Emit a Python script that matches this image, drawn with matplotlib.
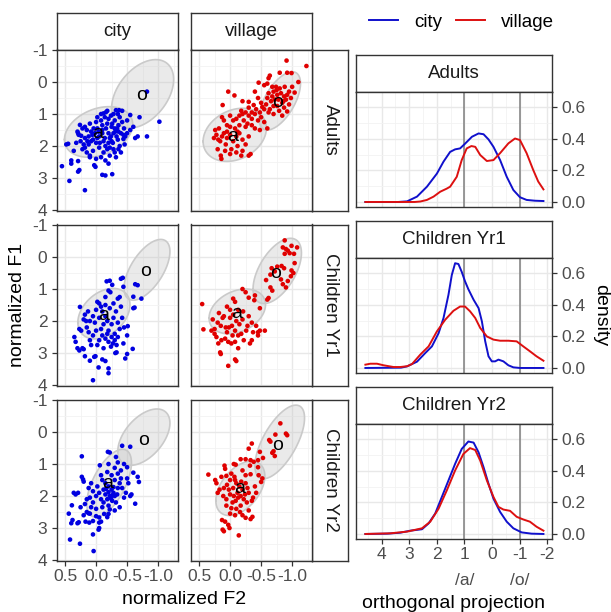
import numpy as np
import matplotlib
matplotlib.use("Agg")
import matplotlib.pyplot as plt
from matplotlib.ticker import FixedLocator, FixedFormatter
from matplotlib.lines import Line2D

plt.rcParams['font.family'] = ['Liberation Sans', 'DejaVu Sans']
plt.rcParams['axes.unicode_minus'] = False

# ---------------- data ----------------
rows = ["Adults", "Children Yr1", "Children Yr2"]
cols = ["city", "village"]
col_colors = {"city": "#0000E0", "village": "#E00000"}
line_colors = {"city": "#1010CC", "village": "#DD1010"}

# (F2, F1) pairs
adults_city = [(0.55,2.63),(0.43,3.09),(0.18,3.38),(0.40,2.45),(0.40,2.55),(0.29,2.8),(0.27,2.75),(0.29,2.47),
    (0.48,1.95),(0.45,1.93),(0.29,1.6),(0.28,1.65),(0.30,1.55),(0.26,1.34),(0.2,1.95),(0.18,2.05),(0.1,2.3),
    (0.1,2.35),(0.03,2.6),(0.01,2.65),(-0.1,2.9),(-0.15,2.92),(-0.26,2.88),(-0.16,0.94),(-0.18,0.9),(-0.32,0.88),
    (-0.37,0.88),(-0.42,0.9),(-0.55,1.03),(-0.7,1.1),(-0.82,0.3),(-1.02,1.24),(-0.82,1.7),(-0.67,1.7),(-0.63,1.75),
    (-0.6,1.4),(-0.47,1.7),(-0.44,1.78),(0.15,1.5),(0.12,1.7),(0.08,1.55),(0.05,1.8),(0.02,1.6),(0.0,1.9),
    (-0.02,1.45),(-0.05,1.7),(-0.08,1.2),(-0.1,1.5),(-0.12,1.85),(-0.14,1.1),(-0.15,2.0),(-0.18,1.3),(-0.2,1.6),
    (-0.22,1.75),(-0.24,1.05),(-0.25,1.4),(-0.27,1.9),(-0.28,2.1),(-0.3,1.2),(-0.31,1.55),(-0.33,1.7),(-0.35,1.0),
    (-0.36,1.35),(-0.38,2.0),(-0.4,1.6),(-0.42,1.25),(-0.3,2.2),(-0.22,2.3),(-0.12,2.2),(-0.05,2.05),(0.05,2.15),
    (0.12,1.95),(0.18,1.75),(0.22,1.45),(0.1,1.3),(0.0,1.25),(-0.08,1.0),(-0.2,1.15),(-0.28,1.6),(-0.35,1.8),
    (-0.45,1.45),(-0.5,1.6),(-0.5,1.2),(-0.38,1.1),(-0.25,1.85),(-0.18,2.1),(-0.1,1.35),(-0.02,1.75),(0.08,1.85),
    (0.15,2.2),(0.22,2.1),(0.25,1.85),(-0.32,2.35),(-0.15,2.45),(-0.4,2.2),(0.0,2.4),(-0.26,1.3),(-0.1,1.6),
    (-0.2,1.9),(-0.3,1.45),(-0.06,1.9),(-0.36,1.55),(0.04,1.45),(-0.14,1.75),
    (0.18,1.4),(0.06,1.65),(-0.04,1.55),(-0.16,1.45),(-0.24,1.7),(-0.34,1.45),(-0.44,1.65),(-0.28,1.0),
    (-0.12,0.98),(-0.02,1.1),(0.14,1.85),(0.24,1.68),(-0.08,2.35),(-0.22,2.05),(-0.36,2.1),(-0.46,1.95),
    (0.32,1.9),(0.36,2.15),(-0.55,1.5),(-0.2,2.55)]

adults_village = [(-0.91,-0.67),(-1.23,-0.5),(-0.8,-0.29),(-0.92,-0.29),(-0.99,-0.28),(-0.64,-0.2),(-0.62,-0.12),
    (-1.1,0.0),(-1.04,0.33),(-0.46,0.02),(-0.6,0.05),(-0.55,0.1),(-0.7,0.3),(-0.76,0.4),(-0.82,0.35),(-0.87,0.45),
    (-0.9,0.55),(-0.84,0.65),(-0.76,0.75),(-0.79,0.9),(-0.87,0.8),(-0.92,0.92),(-0.95,0.7),(-0.72,0.55),(-0.66,0.6),
    (-0.68,0.45),(-0.6,0.5),(-0.58,0.7),(-0.64,0.85),(-0.7,1.0),(-0.55,0.85),(-0.8,0.2),(-0.88,0.15),(-0.95,0.3),
    (-0.98,0.5),(-0.74,0.15),(-0.84,1.05),(-0.62,0.35),(0.03,0.3),(-0.07,0.42),(0.12,0.72),(-0.2,0.6),(-0.3,0.62),
    (-0.38,0.72),(-0.45,0.5),(-0.4,0.3),(0.13,1.1),(0.1,1.2),(0.0,1.05),(-0.05,1.2),(-0.1,1.15),(-0.18,0.9),
    (-0.2,1.0),(-0.22,1.2),(-0.28,1.3),(-0.3,1.05),(-0.35,1.15),(-0.4,1.0),(-0.42,0.85),(-0.48,0.95),(-0.5,1.1),
    (-0.52,0.78),(-0.55,1.25),(-0.6,1.45),(-0.48,1.5),(-0.4,1.45),(-0.35,1.35),(-0.25,1.4),(-0.15,1.35),(-0.08,1.45),
    (0.0,1.4),(0.05,1.55),(0.24,1.5),(0.22,1.65),(0.19,1.8),(0.16,1.85),(0.13,1.7),(0.1,1.6),(0.05,1.75),(0.0,1.65),
    (-0.05,1.85),(-0.1,1.7),(-0.15,1.6),(-0.2,1.8),(-0.12,2.0),(-0.02,2.1),(0.08,2.15),(0.15,2.3),(0.14,2.4),
    (0.0,2.25),(-0.1,2.2),(-0.2,2.15),(-0.3,2.3),(-0.33,2.25),(-0.25,1.95),(-0.3,1.7),(0.2,2.1),
    (-0.3,0.8),(-0.25,0.95),(-0.15,1.05),(-0.45,1.2),(-0.5,0.65),(-0.62,0.95),(-0.7,0.75),(-0.78,0.55),
    (-0.86,0.6),(-0.92,0.4),(-0.75,0.25),(-0.68,0.15),(-0.35,0.95),(0.05,1.35),(0.18,1.45),(-0.12,1.55),
    (0.07,1.95),(-0.18,2.3),(0.26,1.75),(-1.0,0.15)]

yr1_city = [(0.05,3.85),(-0.2,3.63),(-0.2,3.48),(-0.04,3.45),(0.1,3.24),(0.01,3.1),(0.03,3.12),(-0.1,3.2),
    (-0.15,3.25),(-0.31,3.0),(-0.33,2.98),(-0.47,3.17),(-0.5,3.03),(-0.59,2.87),(0.3,2.85),(0.27,2.92),(0.22,2.85),
    (0.2,2.88),(0.18,3.1),(0.35,2.5),(0.33,2.65),(0.27,2.25),(0.24,2.3),(0.2,1.95),(0.16,2.0),(0.26,1.56),(0.18,1.8),
    (0.13,1.7),(-0.02,1.4),(-0.05,1.45),(-0.15,1.25),(-0.35,1.3),(-0.38,1.25),(-0.2,1.05),(-0.23,1.1),(-0.17,0.76),
    (-0.22,0.74),(-0.4,0.68),(-0.43,0.65),(-0.26,0.87),(-0.44,0.93),(-0.63,0.85),(-0.67,0.88),(-0.6,1.24),
    (-0.73,1.3),(-0.6,1.6),(-0.62,1.58),(-0.51,2.16),(-0.5,2.45),(-0.44,2.7),(-0.33,2.75),(-0.27,2.7),(-0.24,2.8),
    (0.1,2.0),(0.05,1.85),(0.0,1.65),(-0.05,1.9),(-0.1,1.7),(-0.12,2.1),(-0.15,1.85),(-0.18,2.0),(-0.2,2.3),
    (-0.22,1.6),(-0.25,2.1),(-0.28,1.9),(-0.3,2.4),(-0.32,1.7),(-0.35,2.05),(-0.38,2.25),(-0.4,1.55),(-0.42,1.9),
    (-0.45,2.2),(-0.1,2.45),(-0.05,2.6),(-0.15,2.55),(-0.2,2.65),(0.0,2.3),(0.05,2.45),(0.1,2.6),(0.12,2.35),
    (0.15,2.2),(-0.25,2.5),(-0.3,2.6),(-0.12,2.85),(-0.02,2.75),(0.08,2.75),(-0.08,1.55),(-0.28,1.45),(-0.15,1.5),
    (-0.35,2.5),(-0.18,2.4),(-0.08,2.25),(0.02,2.05)]

yr1_village = [(-0.88,-0.52),(-0.85,-0.3),(-0.9,-0.25),(-0.93,-0.2),(-0.96,-0.12),(-1.03,-0.1),(-1.08,-0.3),
    (-0.99,-0.35),(-0.88,-0.1),(-1.04,0.19),(-0.67,0.35),(-0.72,0.45),(-0.65,0.55),(-0.58,0.72),(-0.76,0.3),
    (-0.83,0.28),(-0.87,0.35),(-0.82,0.7),(-0.85,0.85),(-0.9,0.95),(-0.93,0.75),(-0.99,0.42),(-0.98,0.6),
    (-1.02,0.5),(-0.65,0.95),(-0.68,1.05),(-0.6,1.33),(-0.62,1.28),(-0.4,1.2),(-0.39,1.35),(-0.2,1.0),(-0.25,1.1),
    (-0.3,1.27),(-0.05,1.3),(-0.08,1.4),(0.0,1.65),(-0.13,1.65),(-0.21,1.7),(0.45,1.47),(0.43,2.26),(0.25,2.4),
    (0.22,2.5),(0.2,2.05),(0.15,2.15),(0.12,1.9),(0.1,1.85),(0.07,2.2),(0.02,2.2),(-0.03,2.15),(-0.08,2.3),
    (-0.13,2.45),(-0.18,2.4),(-0.26,2.3),(-0.37,2.35),(-0.45,2.45),(-0.48,2.3),(-0.56,2.3),(0.19,2.7),(0.14,2.6),
    (0.08,2.55),(0.03,2.65),(-0.02,2.7),(-0.08,2.65),(0.16,2.98),(0.15,3.03),(0.03,3.4),(-0.08,3.2),(-0.1,3.25),
    (-0.13,2.85),(-0.32,2.7),(-0.35,2.6),(-0.45,2.35),(-0.48,1.6),(0.05,1.55),(0.0,1.9),(-0.1,2.0),(-0.2,1.95),
    (-0.3,1.85),(-0.35,2.05),(-0.42,2.15),(0.25,2.25),(0.3,2.3),(0.28,1.95),(0.18,1.75),(-0.04,2.45),(-0.22,2.6),
    (-0.28,2.15),(0.05,2.35),(-0.15,2.1),(-0.05,1.8)]

yr2_city = [(0.04,3.72),(0.26,3.49),(0.42,3.36),(0.05,3.2),(-0.04,3.05),(-0.05,3.0),(0.4,2.85),(0.38,2.75),
    (0.3,2.85),(0.28,2.82),(0.17,2.8),(0.11,2.83),(0.05,2.78),(-0.05,2.83),(-0.08,2.8),(0.44,2.55),(0.15,2.5),
    (0.12,2.54),(0.0,2.63),(-0.05,2.67),(-0.13,2.56),(-0.18,2.66),(-0.2,2.56),(0.39,2.29),(0.36,1.9),(0.33,1.95),
    (0.29,1.9),(0.23,1.4),(0.21,1.48),(0.2,1.55),(0.23,0.76),(-0.06,1.04),(-0.19,0.62),(-0.22,0.64),(-0.32,0.78),
    (-0.42,0.43),(-0.55,0.46),(-0.45,1.0),(-0.5,1.1),(-0.4,1.2),(-0.6,1.27),(-0.67,1.4),(-0.69,1.56),(-0.63,2.24),
    (-0.55,2.0),(-0.57,1.95),(-0.48,1.9),(-0.1,1.5),(-0.15,1.6),(-0.2,1.7),(-0.25,1.8),(-0.28,1.9),(-0.3,2.0),
    (-0.22,2.0),(-0.18,2.1),(-0.15,1.95),(-0.12,2.2),(-0.08,2.1),(-0.05,1.9),(0.0,2.0),(0.05,2.2),(0.08,2.35),
    (0.0,2.4),(-0.1,2.35),(-0.2,2.3),(-0.26,2.15),(-0.32,2.2),(-0.35,1.75),(-0.38,1.6),(-0.3,1.5),(-0.25,1.35),
    (-0.18,1.25),(-0.35,1.3),(-0.4,1.45),(-0.42,1.75),(-0.45,2.05),(-0.38,2.35),(-0.3,2.45),(-0.22,2.42),
    (-0.12,1.8),(-0.02,1.7),(0.05,1.85),(0.1,2.05),(0.12,1.75),(0.15,2.1),(0.18,2.25),(-0.26,1.98),(-0.2,1.88),
    (-0.24,2.08),(-0.28,1.72),(-0.16,1.78),(-0.34,1.95),(-0.5,1.45),(-0.52,1.6),(0.08,1.6),(-0.08,1.35),
    (-0.3,1.12),(-0.2,1.0),(-0.35,0.95),(0.1,2.55),(0.25,2.35),(0.2,2.6)]

yr2_village = [(-0.81,-0.27),(-0.9,0.05),(-0.92,0.1),(-0.73,0.08),(-0.63,0.25),(-0.65,0.3),(-0.7,0.6),
    (-0.68,0.65),(-0.72,0.75),(-0.35,0.36),(-0.3,0.52),(-0.48,0.62),(-0.53,0.81),(-0.45,0.88),(-0.17,0.85),
    (-0.25,0.85),(-0.33,0.88),(-0.38,0.93),(-0.06,1.0),(-0.09,1.02),(-0.32,1.05),(-0.45,1.1),(0.09,1.05),
    (0.08,1.15),(0.35,1.33),(0.24,1.5),(0.22,1.6),(0.14,1.4),(0.06,1.37),(0.0,1.5),(-0.02,1.3),(-0.07,1.4),
    (-0.2,1.2),(-0.25,1.35),(-0.33,1.32),(-0.46,1.35),(-0.5,1.56),(-0.52,1.45),(0.17,1.8),(0.2,1.9),(0.11,2.0),
    (0.06,2.1),(0.0,1.95),(-0.06,2.0),(-0.09,2.15),(-0.17,2.0),(-0.22,2.1),(-0.27,2.2),(-0.35,2.15),(-0.37,2.05),
    (0.06,2.3),(-0.02,2.38),(-0.1,2.4),(-0.17,2.3),(-0.2,2.6),(-0.25,2.68),(-0.33,2.72),(-0.36,2.65),(0.13,2.75),
    (0.08,2.8),(0.03,2.9),(0.01,3.0),(0.1,3.1),(0.12,3.05),(-0.14,3.23),(-0.1,1.6),(-0.15,1.7),(-0.2,1.8),
    (-0.05,1.75),(0.05,1.65),(-0.25,1.6),(-0.3,1.9),(-0.12,1.9),(-0.08,1.5),(0.02,1.8),(-0.18,1.55),(-0.28,1.75),
    (-0.13,2.05),(-0.04,2.2),(-0.24,1.95),(-0.4,1.7),(-0.42,1.9),(0.1,1.75),(-0.16,2.5),(-0.08,2.6),(0.0,2.55),
    (-0.3,2.45)]

points = {("Adults", "city"): adults_city, ("Adults", "village"): adults_village,
          ("Children Yr1", "city"): yr1_city, ("Children Yr1", "village"): yr1_village,
          ("Children Yr2", "city"): yr2_city, ("Children Yr2", "village"): yr2_village}

# vowel ellipses: (centre F2, centre F1, sd F2, sd F1, correlation)
ell_a = {("Adults", "city"): (-0.04, 1.56, 0.55, 0.79, 0.3), ("Adults", "village"): (-0.075, 1.65, 0.51, 0.83, 0.25),
         ("Children Yr1", "city"): (-0.126, 1.77, 0.42, 0.79, 0.35), ("Children Yr1", "village"): (-0.116, 1.70, 0.455, 0.70, 0.3),
         ("Children Yr2", "city"): (-0.21, 1.60, 0.36, 1.06, 0.6), ("Children Yr2", "village"): (-0.165, 1.76, 0.395, 0.85, 0.45)}
ell_o = {("Adults", "city"): (-0.75, 0.37, 0.50, 1.07, 0.42), ("Adults", "village"): (-0.80, 0.59, 0.335, 0.91, 0.6),
         ("Children Yr1", "city"): (-0.82, 0.40, 0.37, 0.95, 0.6), ("Children Yr1", "village"): (-0.76, 0.435, 0.39, 1.02, 0.55),
         ("Children Yr2", "city"): (-0.77, 0.16, 0.42, 0.88, 0.5), ("Children Yr2", "village"): (-0.80, 0.31, 0.40, 1.15, 0.65)}
lab_a = {("Adults", "city"): (-0.03, 1.60), ("Adults", "village"): (-0.04, 1.71),
         ("Children Yr1", "city"): (-0.12, 1.82), ("Children Yr1", "village"): (-0.10, 1.77),
         ("Children Yr2", "city"): (-0.18, 1.61), ("Children Yr2", "village"): (-0.16, 1.75)}
lab_o = {("Adults", "city"): (-0.74, 0.43), ("Adults", "village"): (-0.76, 0.64),
         ("Children Yr1", "city"): (-0.79, 0.45), ("Children Yr1", "village"): (-0.73, 0.50),
         ("Children Yr2", "city"): (-0.76, 0.25), ("Children Yr2", "village"): (-0.76, 0.41)}

# densities of orthogonal projection
dens_adults_city_x = [4.59, 3.4, 3.08, 2.72, 2.36, 2.0, 1.76, 1.52, 1.34, 1.16, 0.98, 0.73, 0.49, 0.31, 0.13, -0.05, -0.29, -0.53, -0.77, -1.01, -1.25, -1.55, -1.86]
dens_adults_city_y = [0.0, 0.0, 0.004, 0.034, 0.097, 0.18, 0.256, 0.318, 0.334, 0.34, 0.37, 0.414, 0.435, 0.43, 0.397, 0.35, 0.266, 0.16, 0.076, 0.03, 0.013, 0.008, 0.006]
dens_adults_village_x = [4.59, 2.8, 2.6, 2.36, 2.12, 1.88, 1.64, 1.52, 1.28, 1.1, 0.92, 0.75, 0.61, 0.43, 0.19, -0.05, -0.29, -0.59, -0.83, -1.01, -1.25, -1.49, -1.67, -1.86]
dens_adults_village_y = [0.0, 0.0, 0.003, 0.013, 0.034, 0.065, 0.085, 0.097, 0.16, 0.266, 0.34, 0.355, 0.35, 0.298, 0.26, 0.266, 0.31, 0.372, 0.403, 0.393, 0.31, 0.203, 0.13, 0.08]
dens_yr1_city_x = [4.59, 3.3, 3.08, 2.72, 2.42, 2.18, 1.94, 1.76, 1.58, 1.46, 1.34, 1.22, 1.1, 0.98, 0.86, 0.67, 0.49, 0.37, 0.25, 0.13, 0.01, -0.11, -0.23, -0.41, -0.59, -0.77, -1.01, -1.86]
dens_yr1_city_y = [0.0, 0.002, 0.01, 0.04, 0.095, 0.137, 0.22, 0.317, 0.465, 0.59, 0.665, 0.66, 0.61, 0.55, 0.5, 0.433, 0.38, 0.296, 0.17, 0.074, 0.042, 0.042, 0.053, 0.042, 0.017, 0.004, 0.0, 0.0]
dens_yr1_village_x = [4.59, 4.41, 4.17, 3.93, 3.57, 3.33, 3.08, 2.9, 2.6, 2.3, 2.0, 1.7, 1.4, 1.16, 0.98, 0.8, 0.61, 0.43, 0.19, -0.05, -0.29, -0.59, -0.89, -1.13, -1.37, -1.61, -1.86]
dens_yr1_village_y = [0.021, 0.027, 0.027, 0.017, 0.006, 0.006, 0.011, 0.025, 0.085, 0.137, 0.232, 0.306, 0.363, 0.39, 0.39, 0.36, 0.317, 0.254, 0.2, 0.18, 0.173, 0.173, 0.169, 0.137, 0.106, 0.074, 0.046]
dens_yr2_city_x = [4.59, 3.8, 3.33, 2.96, 2.54, 2.3, 2.06, 1.82, 1.58, 1.34, 1.1, 0.86, 0.67, 0.49, 0.31, 0.13, -0.05, -0.29, -0.53, -0.77, -1.07, -1.43, -1.86]
dens_yr2_city_y = [0.0, 0.002, 0.008, 0.021, 0.03, 0.067, 0.13, 0.235, 0.34, 0.445, 0.54, 0.587, 0.58, 0.518, 0.424, 0.319, 0.224, 0.14, 0.078, 0.036, 0.01, 0.002, 0.0]
dens_yr2_village_x = [4.59, 3.69, 3.08, 2.54, 2.24, 1.94, 1.64, 1.34, 1.04, 0.8, 0.61, 0.43, 0.19, -0.05, -0.23, -0.41, -0.65, -0.89, -1.13, -1.37, -1.61, -1.86]
dens_yr2_village_y = [0.0, 0.004, 0.015, 0.036, 0.078, 0.16, 0.277, 0.403, 0.508, 0.545, 0.533, 0.466, 0.34, 0.235, 0.172, 0.155, 0.147, 0.109, 0.092, 0.078, 0.046, 0.021]

dens = {("Adults", "city"): (dens_adults_city_x, dens_adults_city_y),
        ("Adults", "village"): (dens_adults_village_x, dens_adults_village_y),
        ("Children Yr1", "city"): (dens_yr1_city_x, dens_yr1_city_y),
        ("Children Yr1", "village"): (dens_yr1_village_x, dens_yr1_village_y),
        ("Children Yr2", "city"): (dens_yr2_city_x, dens_yr2_city_y),
        ("Children Yr2", "village"): (dens_yr2_village_x, dens_yr2_village_y)}

vowel_refs = [1, -1]
vowel_labels = ["/a/", "/o/"]

sc_xticks = [0.5, 0.0, -0.5, -1.0]
sc_xticklabels = ["0.5", "0.0", "-0.5", "-1.0"]
sc_yticks = [-1, 0, 1, 2, 3, 4]
de_xticks = [4, 3, 2, 1, 0, -1, -2]
de_yticks = [0.0, 0.2, 0.4, 0.6]

# ---------------- layout ----------------
W, H = 611, 612
fig = plt.figure(figsize=(W / 100, H / 100), dpi=100)

def rect(x0, y0, x1, y1):
    return [x0 / W, 1 - y1 / H, (x1 - x0) / W, (y1 - y0) / H]

EDGE = "#333333"
TICKC = "#4D4D4D"
TS = 12.5
STRIP = 13.5
TITLE = 14

def style_panel(ax):
    ax.set_facecolor("white")
    for s in ax.spines.values():
        s.set_color(EDGE)
        s.set_linewidth(1.0)
    ax.set_axisbelow(True)
    ax.grid(which="major", color="#E8E8E8", lw=1.0)
    ax.grid(which="minor", color="#F2F2F2", lw=0.6)
    ax.tick_params(which="major", length=3.5, width=0.9, color=EDGE, labelcolor=TICKC, labelsize=TS)
    ax.tick_params(which="minor", length=0)

def strip(r, text, rotation=0):
    ax = fig.add_axes(rect(*r))
    ax.set_xticks([]); ax.set_yticks([])
    ax.set_facecolor("white")
    for s in ax.spines.values():
        s.set_color(EDGE); s.set_linewidth(1.0)
    ax.text(0.5, 0.5, text, ha="center", va="center", rotation=rotation,
            fontsize=STRIP, color="#1A1A1A", transform=ax.transAxes)
    return ax

col_x = [(57, 178), (191, 312)]
row_y = [(49.5, 211), (224.5, 386), (399.5, 561)]

tt = np.linspace(0, 2 * np.pi, 200)

def ellipse_xy(p):
    cx, cy, sx, sy, rho = p
    x = cx + sx * np.cos(tt)
    y = cy + sy * (rho * np.cos(tt) + np.sqrt(1 - rho ** 2) * np.sin(tt))
    return x, y

for j, c in enumerate(cols):
    strip((col_x[j][0], 13, col_x[j][1], row_y[0][0]), c)
for i, r in enumerate(rows):
    strip((col_x[1][1], row_y[i][0], 348, row_y[i][1]), r, rotation=270)
    for j, c in enumerate(cols):
        ax = fig.add_axes(rect(col_x[j][0], row_y[i][0], col_x[j][1], row_y[i][1]))
        style_panel(ax)
        for p in (ell_a[(r, c)], ell_o[(r, c)]):
            ex, ey = ellipse_xy(p)
            ax.fill(ex, ey, facecolor="#C4C4C4", alpha=0.35, edgecolor="none", zorder=2)
            ax.plot(ex, ey, color="#CACACA", lw=1.2, zorder=2)
        pts = np.array(points[(r, c)])
        ax.scatter(pts[:, 0], pts[:, 1], s=11, color=col_colors[c], edgecolors="none", zorder=3)
        ax.text(*lab_a[(r, c)], "a", ha="center", va="center", fontsize=14, color="black", zorder=4)
        ax.text(*lab_o[(r, c)], "o", ha="center", va="center", fontsize=14, color="black", zorder=4)
        ax.set_xlim(0.63, -1.32)
        ax.set_ylim(4.03, -1.016)
        ax.xaxis.set_major_locator(FixedLocator(sc_xticks))
        ax.xaxis.set_minor_locator(FixedLocator([0.25, -0.25, -0.75, -1.25]))
        ax.yaxis.set_major_locator(FixedLocator(sc_yticks))
        ax.yaxis.set_minor_locator(FixedLocator([-0.5, 0.5, 1.5, 2.5, 3.5]))
        if i == 2:
            ax.xaxis.set_major_formatter(FixedFormatter(sc_xticklabels))
            ax.tick_params(axis="x", pad=2.5)
        else:
            ax.tick_params(axis="x", bottom=False, labelbottom=False)
        if j == 0:
            ax.set_yticklabels([str(v) for v in sc_yticks])
            ax.tick_params(axis="y", pad=3.5)
        else:
            ax.tick_params(axis="y", left=False, labelleft=False)

# density column
dstrip_y = [(55, 91.7), (221, 257.7), (387, 423.7)]
dpanel_y = [(91.7, 206.7), (257.7, 372.7), (423.7, 538.7)]
for i, r in enumerate(rows):
    strip((356, dstrip_y[i][0], 552, dstrip_y[i][1]), r)
    ax = fig.add_axes(rect(356, dpanel_y[i][0], 552, dpanel_y[i][1]))
    style_panel(ax)
    for v in vowel_refs:
        ax.axvline(v, color="#7F7F7F", lw=1.1, zorder=2)
    for c in cols:
        dx, dy = dens[(r, c)]
        ax.plot(dx, dy, color=line_colors[c], lw=1.4, zorder=3, solid_joinstyle="round")
    ax.set_xlim(4.93, -2.17)
    ax.set_ylim(-0.03, 0.70)
    ax.xaxis.set_major_locator(FixedLocator(de_xticks))
    ax.xaxis.set_minor_locator(FixedLocator([4.5, 3.5, 2.5, 1.5, 0.5, -0.5, -1.5]))
    ax.yaxis.set_major_locator(FixedLocator(de_yticks))
    ax.yaxis.set_minor_locator(FixedLocator([0.1, 0.3, 0.5]))
    ax.yaxis.tick_right()
    ax.set_yticklabels(["0.0", "0.2", "0.4", "0.6"])
    ax.tick_params(axis="y", pad=3.5)
    if i == 2:
        ax.set_xticklabels([str(v) for v in de_xticks])
        ax.tick_params(axis="x", pad=2.7)
        for v, lab in zip(vowel_refs, vowel_labels):
            ax.text(v, -0.36, lab, ha="center", va="center", fontsize=TS, color=TICKC,
                    transform=ax.get_xaxis_transform())
    else:
        ax.tick_params(axis="x", bottom=False, labelbottom=False)

# axis titles
fig.text(18 / W, 1 - 305 / H, "normalized F1", rotation=90, ha="center", va="center", fontsize=TITLE)
fig.text(184.5 / W, 1 - 600 / H, "normalized F2", ha="center", va="center", fontsize=TITLE)
fig.text(454 / W, 1 - 603 / H, "orthogonal projection", ha="center", va="center", fontsize=TITLE)
fig.text(601 / W, 1 - 315 / H, "density", rotation=270, ha="center", va="center", fontsize=TITLE)

# legend
handles = [Line2D([0], [0], color=line_colors[c], lw=1.4) for c in cols]
fig.legend(handles, cols, loc="center left", bbox_to_anchor=(369 / W, 1 - 22 / H), ncol=2,
           frameon=False, fontsize=13.5, handlelength=1.55, handletextpad=0.85,
           columnspacing=0.75, borderpad=0, borderaxespad=0)

fig.savefig("out.png", dpi=100)
